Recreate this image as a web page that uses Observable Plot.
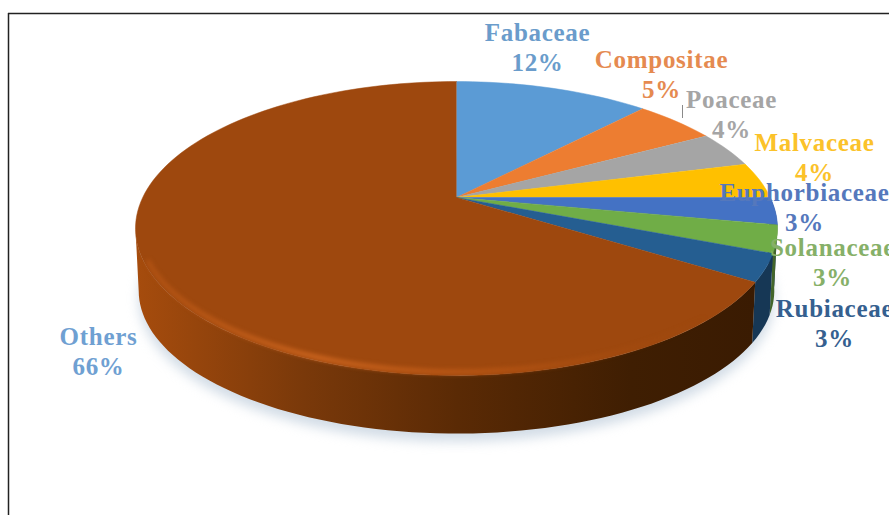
<!DOCTYPE html>
<html>
<head>
<meta charset="utf-8">
<script src="https://cdn.jsdelivr.net/npm/d3@7"></script>
<script src="https://cdn.jsdelivr.net/npm/@observablehq/plot@0.6"></script>
<style>
  html, body { margin: 0; padding: 0; background: #fff; overflow: hidden; }
  svg { display: block; }
  .pie-label text { letter-spacing: 0.7px; }
</style>
</head>
<body>
<div id="chart"></div>
<script>
// Plant families and their share of species, in percent, clockwise from twelve o'clock.
const families = ["Fabaceae", "Compositae", "Poaceae", "Malvaceae", "Euphorbiaceae", "Solanaceae", "Rubiaceae", "Others"];
const shares = [12, 5, 4, 4, 3, 3, 3, 66];
const sliceColors = ["#5B9BD5", "#ED7D31", "#A5A5A5", "#FFC000", "#4472C4", "#70AD47", "#255E91", "#9E480E"];
const labelColors = ["#6A9CCB", "#E58A50", "#A5A5A5", "#FBC22A", "#5578BC", "#86B068", "#35608F", "#6FA0D2"];

// Label block centres on the page, in pixels.
const labelCentreX = [537, 661, 731, 814, 804, 832, 834, 98];
const labelCentreY = [46, 73, 113, 156, 206, 261, 322, 350];

// Tilted-disc geometry: the pie's hub on the page, its half-axes, and the perspective strength.
const width = 889, height = 515;
const hubX = 456, hubY = 197, halfX = 313.8, halfY = 140.4, perspective = 0.2108;
const x = {domain: [-1, 1], range: [hubX - halfX, hubX + halfX], axis: null};
const y = {domain: [-1, 1], range: [hubY + halfY, hubY - halfY], axis: null};
const pageX = (px) => (px - hubX) / halfX;
const pageY = (py) => (hubY - py) / halfY;

// A point on a disc rim at a cumulative share (0-100), seen in perspective.
function rim(share, scaleX = 1, scaleY = 1, drop = 0) {
  const a = (share / 100) * 2 * Math.PI;
  const d = 1 + perspective * Math.cos(a);
  return {x: (scaleX * Math.sin(a)) / d, y: (scaleY * Math.cos(a)) / d - drop};
}
function arc(from, to, ...bottom) {
  const n = Math.max(2, Math.ceil(Math.abs(to - from) * 2));
  return d3.range(n + 1).map((i) => rim(from + ((to - from) * i) / n, ...bottom));
}
const base = [0.99, 0.973, 63 / halfY]; // lower rim of the disc

// Cumulative extents of every slice.
let running = 0;
const slices = families.map((name, i) => {
  const start = running;
  running += shares[i];
  return {name, share: shares[i], start, end: running, color: sliceColors[i], labelColor: labelColors[i], i};
});

const tops = slices.flatMap((s) =>
  [{x: 0, y: 0}, ...arc(s.start, s.end)].map((p) => ({...p, name: s.name, color: s.color}))
);

// Outer wall, between the two silhouette points of the disc.
const wallFrom = 25, wallTo = 71.6;
const wall = (s) => {
  const from = Math.max(s.start, wallFrom), to = Math.min(s.end, wallTo);
  return [...arc(from, to), ...arc(to, from, ...base)].map((p) => ({...p, name: s.name}));
};
const frontSlices = slices.filter((s) => s.end > wallFrom);
const shadowRing = arc(0, 100, ...base);

const wallStops = [[0, "#a64c0d"], [0.1, "#96450c"], [0.27, "#7a390a"], [0.52, "#5a2a05"], [0.8, "#3f1e02"], [1, "#3a1b02"]];
const glowStops = [[0, "#c25c18", 0.5], [0.3, "#cb641e", 1], [0.62, "#bd5815", 0.7], [1, "#a84e10", 0]];

const stop = ([offset, color, opacity = 1]) =>
  `<stop offset="${offset}" stop-color="${color}" stop-opacity="${opacity}"/>`;

const defs = () => {
  const g = document.createElementNS("http://www.w3.org/2000/svg", "g");
  g.innerHTML = `<defs>
    <linearGradient id="wallOthers">${wallStops.map(stop).join("")}</linearGradient>
    <linearGradient id="rimGlow">${glowStops.map(stop).join("")}</linearGradient>
  </defs>`;
  return g;
};

const labelMark = (s) =>
  Plot.text([s], {
    x: (d) => pageX(labelCentreX[d.i]),
    y: (d) => pageY(labelCentreY[d.i]),
    text: (d) => `${d.name}\n${d.share}%`,
    fill: (d) => d.labelColor,
    fontSize: 25,
    fontWeight: "bold",
    lineHeight: 1.2,
    textAnchor: "middle",
    className: "pie-label"
  });

const chart = Plot.plot({
  width, height,
  margin: 0,
  x, y,
  color: {type: "identity"},
  style: {fontFamily: "'Liberation Serif', serif", background: "#fff"},
  marks: [
    defs,
    // Page frame: left and top edges only reach into view.
    Plot.ruleX([pageX(8)], {stroke: "#222", strokeWidth: 1.5, y1: pageY(13), y2: pageY(515)}),
    Plot.ruleY([pageY(13)], {stroke: "#222", strokeWidth: 1.5, x1: pageX(8), x2: pageX(889)}),
    // Soft shadow below the disc.
    Plot.line(shadowRing.map((p) => ({x: p.x, y: p.y - 8 / halfY})), {
      x: "x", y: "y", fill: "#c3d0de", stroke: "none", fillOpacity: 0.75, imageFilter: "blur(6px)"
    }),
    // Outer wall.
    ...frontSlices.map((s) =>
      Plot.line(wall(s), {
        x: "x", y: "y", stroke: "none",
        fill: s.name === "Others" ? "url(#wallOthers)" : d3.rgb(s.color).darker(1.5).formatHex()
      })
    ),
    // Top face, one filled wedge per family.
    Plot.line(tops, {x: "x", y: "y", z: "name", fill: "color", stroke: "color", strokeWidth: 0.5}),
    // Rounded front edge catching the light, running from nine o'clock round the front.
    Plot.line(arc(68, 38, 0.988, 0.98), {
      x: "x", y: "y", stroke: "url(#rimGlow)", strokeWidth: 5, imageFilter: "blur(2px)"
    }),
    // Short leader beside the Poaceae label.
    Plot.ruleX([pageX(682)], {stroke: "#8a8a8a", strokeWidth: 1, y1: pageY(105), y2: pageY(118)}),
    ...slices.map(labelMark)
  ]
});
document.getElementById("chart").append(chart);
</script>
</body>
</html>
